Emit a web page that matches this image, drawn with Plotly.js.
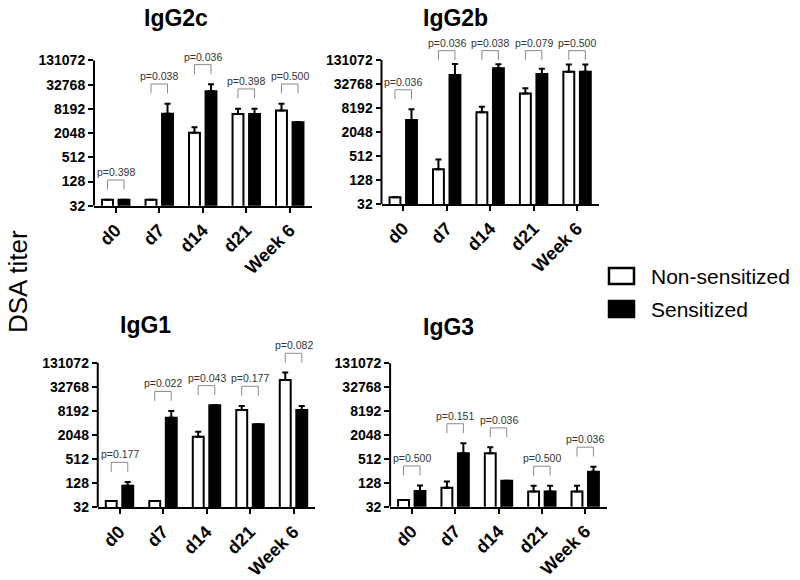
<!DOCTYPE html>
<html>
<head>
<meta charset="utf-8">
<script src="https://cdn.plot.ly/plotly-3.0.1.min.js"></script>
<style>html,body{margin:0;padding:0;background:#fff;}#chart{width:800px;height:580px;}</style>
</head>
<body>
<div id="chart"></div>
<script>
// ---- data ----
const categories = ['d0', 'd7', 'd14', 'd21', 'Week 6'];
const panelNames = ['IgG2c', 'IgG2b', 'IgG1', 'IgG3'];
const seriesNames = ['Non-sensitized', 'Sensitized'];
const yTickVals = [32, 128, 512, 2048, 8192, 32768, 131072];
const yTickText = ['32', '128', '512', '2048', '8192', '32768', '131072'];

const igg2cNon = [45, 45, 2100, 6100, 7500];
const igg2cNonSem = [0, 0, 750, 2200, 3500];
const igg2cSens = [45, 6200, 22400, 6100, 3800];
const igg2cSensSem = [0, 4800, 11000, 2200, 0];
const igg2cP = [0.398, 0.038, 0.036, 0.398, 0.500];

const igg2bNon = [47, 237, 6400, 19000, 66800];
const igg2bNonSem = [0, 183, 2400, 6500, 35000];
const igg2bSens = [4100, 55000, 81000, 58000, 66800];
const igg2bSensSem = [3500, 49000, 21000, 21000, 35000];
const igg2bP = [0.036, 0.036, 0.038, 0.079, 0.500];

const igg1Non = [46, 46, 1860, 8600, 48300];
const igg1NonSem = [0, 0, 610, 2300, 26700];
const igg1Sens = [110, 5550, 11300, 3800, 8600];
const igg1SensSem = [27, 2550, 0, 0, 2300];
const igg1P = [0.177, 0.022, 0.043, 0.177, 0.082];

const igg3Non = [47, 96, 710, 77, 77];
const igg3NonSem = [0, 43, 290, 31, 31];
const igg3Sens = [79, 710, 145, 77, 244];
const igg3SensSem = [31, 560, 0, 31, 82];
const igg3P = [0.500, 0.151, 0.036, 0.500, 0.036];

// ---- build ----
const panels = [
  {non: igg2cNon, nonSem: igg2cNonSem, sens: igg2cSens, sensSem: igg2cSensSem, p: igg2cP},
  {non: igg2bNon, nonSem: igg2bNonSem, sens: igg2bSens, sensSem: igg2bSensSem, p: igg2bP},
  {non: igg1Non, nonSem: igg1NonSem, sens: igg1Sens, sensSem: igg1SensSem, p: igg1P},
  {non: igg3Non, nonSem: igg3NonSem, sens: igg3Sens, sensSem: igg3SensSem, p: igg3P}
];

const W = 800, H = 580;
const xDomPx = [[94, 311.5], [381.5, 598.8], [97.75, 315.25], [390.1, 606.9]];
const yDomPx = [[205.7, 38.7], [204, 38.4], [507.3, 341], [506.7, 341.8]];
const titlePos = [[176, 18], [455, 18], [145, 325], [448, 327]];

const FONT = 'Liberation Sans, Arial, sans-serif';
const traces = [];
const shapes = [];
const annotations = [];
const layout = {
  width: W, height: H,
  margin: {l: 0, r: 0, t: 0, b: 0},
  paper_bgcolor: '#fff', plot_bgcolor: 'rgba(0,0,0,0)',
  barmode: 'group', bargap: 0.24, bargroupgap: 0.34,
  showlegend: false,
  font: {family: FONT, color: '#000'}
};

panels.forEach((pn, i) => {
  const sfx = i === 0 ? '' : String(i + 1);
  const xa = 'x' + sfx, ya = 'y' + sfx;
  const errStyle = (arr) => ({type: 'data', array: arr, arrayminus: arr.map(() => 0), symmetric: false,
    visible: true, color: '#000', thickness: 2, width: 3});
  traces.push({
    type: 'bar', x: categories, y: pn.non, name: seriesNames[0], xaxis: xa, yaxis: ya,
    marker: {color: '#fff', line: {color: '#000', width: 2}},
    error_y: errStyle(pn.nonSem), offsetgroup: '1'
  });
  traces.push({
    type: 'bar', x: categories, y: pn.sens, name: seriesNames[1], xaxis: xa, yaxis: ya,
    marker: {color: '#000', line: {color: '#000', width: 2}},
    error_y: errStyle(pn.sensSem), offsetgroup: '2'
  });

  const xd = xDomPx[i], yd = yDomPx[i];
  layout['xaxis' + sfx] = {
    domain: [xd[0] / W, xd[1] / W], anchor: ya,
    type: 'category', categoryorder: 'array', categoryarray: categories,
    range: [-0.5, 4.5], showline: true, linecolor: '#000', linewidth: 2,
    ticks: 'outside', ticklen: 5, tickwidth: 2, tickcolor: '#000',
    tickangle: -45, showgrid: false, zeroline: false, fixedrange: true,
    tickfont: {family: FONT, size: 18, weight: 'bold', color: '#000'}
  };
  layout['yaxis' + sfx] = {
    domain: [(H - yd[0]) / H, (H - yd[1]) / H], anchor: xa,
    type: 'log', range: [Math.log10(32), 18.8 * Math.log10(2)],
    tickmode: 'array', tickvals: yTickVals, ticktext: yTickText,
    showline: false, ticks: 'outside', ticklen: 5, tickwidth: 2, tickcolor: '#000',
    showgrid: false, zeroline: false, fixedrange: true,
    tickfont: {family: FONT, size: 14, weight: 'bold', color: '#000'}
  };
  // y axis line from 32 to 131072
  shapes.push({type: 'line', xref: xa + ' domain', yref: ya, x0: 0, x1: 0,
    y0: yTickVals[0], y1: yTickVals[yTickVals.length - 1], line: {color: '#000', width: 2}, layer: 'above'});

  // p-value brackets
  categories.forEach((c, j) => {
    const topN = pn.non[j] + pn.nonSem[j];
    const topS = pn.sens[j] + pn.sensSem[j];
    const legY = Math.min(Math.max(topN, topS) * Math.pow(2, 0.85), Math.pow(2, 17));
    const brY = legY * Math.pow(2, 0.78);
    const x0 = j - 0.19, x1 = j + 0.19;
    shapes.push({type: 'path', xref: xa, yref: ya,
      path: `M${x0},${legY} L${x0},${brY} L${x1},${brY} L${x1},${legY}`,
      line: {color: '#8a8a8a', width: 1}});
    annotations.push({xref: xa, yref: ya, x: j, y: Math.log10(brY), yanchor: 'bottom', yshift: 0,
      text: 'p=' + pn.p[j].toFixed(3), showarrow: false,
      font: {family: FONT, size: 10.5, color: '#333'}});
  });

  annotations.push({xref: 'paper', yref: 'paper', x: titlePos[i][0] / W, y: (H - titlePos[i][1]) / H,
    xanchor: 'center', yanchor: 'middle', text: panelNames[i], showarrow: false,
    font: {family: FONT, size: 23, weight: 'bold', color: '#000'}});
});

// y title
annotations.push({xref: 'paper', yref: 'paper', x: 18 / W, y: (H - 282) / H, xanchor: 'center', yanchor: 'middle',
  text: 'DSA titer', textangle: -90, showarrow: false, font: {family: FONT, size: 26, color: '#000'}});

// legend
const legRows = [[268, 284, 276, '#fff'], [301, 317, 309, '#000']];
legRows.forEach((r, k) => {
  shapes.push({type: 'rect', xref: 'paper', yref: 'paper', x0: 609 / W, x1: 634 / W,
    y0: (H - r[1]) / H, y1: (H - r[0]) / H, fillcolor: r[3], line: {color: '#000', width: 2.5}});
  annotations.push({xref: 'paper', yref: 'paper', x: 649 / W, y: (H - r[2]) / H, xanchor: 'left', yanchor: 'middle',
    text: seriesNames[k], showarrow: false, font: {family: FONT, size: 21, color: '#000'}});
});

layout.shapes = shapes;
layout.annotations = annotations;

Plotly.newPlot('chart', traces, layout, {displayModeBar: false, staticPlot: true});
</script>
</body>
</html>
